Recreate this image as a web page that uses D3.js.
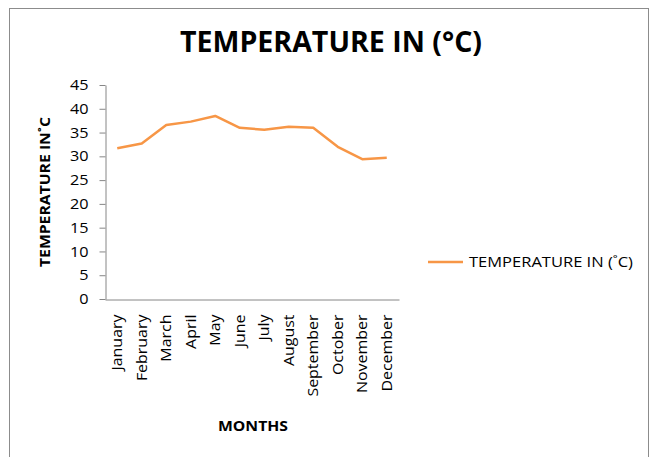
<!DOCTYPE html>
<html>
<head>
<meta charset="utf-8">
<script src="https://cdn.jsdelivr.net/npm/d3@7"></script>
<style>
  body { margin: 0; background: #fff; }
  text { font-family: "Open Sans", "DejaVu Sans", sans-serif; fill: #000; }
</style>
</head>
<body>
<div id="chart"></div>
<script>
var months = ['January','February','March','April','May','June','July','August','September','October','November','December'];
var temps = [31.7, 32.7, 36.6, 37.3, 38.5, 36.0, 35.6, 36.2, 36.0, 32.0, 29.4, 29.7];
var yTicks = [0, 5, 10, 15, 20, 25, 30, 35, 40, 45];
var seriesName = 'TEMPERATURE IN (\u02DAC)';

var width = 653, height = 457;
var svg = d3.select('#chart').append('svg').attr('width', width).attr('height', height);

// chart area border
svg.append('rect').attr('x', 9.5).attr('y', 8.5).attr('width', 639).attr('height', 460)
  .attr('fill', '#fff').attr('stroke', '#8c8c8c').attr('stroke-width', 1);

var xScale = d3.scaleBand().domain(months).range([105, 399]);
var yScale = d3.scaleLinear().domain([0, 45]).range([299, 85]);

// y axis
var yAxis = d3.axisLeft(yScale).tickValues(yTicks).tickSize(6).tickSizeOuter(0);
var gy = svg.append('g').attr('transform', 'translate(105.5,0)').call(yAxis);
gy.select('.domain').attr('stroke', '#868686');
gy.selectAll('.tick line').attr('stroke', '#868686');
gy.selectAll('.tick text').attr('x', -17)
  .style('font-size', '14.5px').style('font-family', '"Open Sans", sans-serif').attr('fill', '#000')
  .each(function() {
    var t = d3.select(this);
    t.attr('textLength', this.getComputedTextLength() * 1.12).attr('lengthAdjust', 'spacingAndGlyphs');
  });

// x axis
var xAxis = d3.axisBottom(xScale).tickSize(0).tickSizeOuter(0);
var gx = svg.append('g').attr('transform', 'translate(0,299.5)').call(xAxis);
gx.select('.domain').attr('stroke', '#868686');
gx.selectAll('.tick text')
  .attr('transform', 'rotate(-90)')
  .attr('text-anchor', 'end')
  .attr('x', -15).attr('y', 0).attr('dy', '0.35em')
  .style('font-size', '14.5px').style('font-family', '"Open Sans", sans-serif').attr('fill', '#000')
  .each(function() {
    var t = d3.select(this);
    t.attr('textLength', this.getComputedTextLength() * 1.1).attr('lengthAdjust', 'spacingAndGlyphs');
  });

// line
svg.append('path')
  .datum(temps)
  .attr('fill', 'none')
  .attr('stroke', '#f79646')
  .attr('stroke-width', 2.5)
  .attr('stroke-linejoin', 'round')
  .attr('d', d3.line()
    .x(function(d, i) { return xScale(months[i]) + xScale.bandwidth() / 2; })
    .y(function(d) { return yScale(d); }));

// title
svg.append('text').text('TEMPERATURE IN (\u00B0C)')
  .attr('x', 331).attr('y', 52).attr('text-anchor', 'middle')
  .attr('textLength', 302).attr('lengthAdjust', 'spacingAndGlyphs')
  .style('font-size', '28px').style('font-weight', 'bold');

// axis titles
svg.append('text').text('TEMPERATURE IN\u02DAC')
  .attr('transform', 'translate(50,192) rotate(-90)')
  .attr('text-anchor', 'middle')
  .attr('textLength', 150).attr('lengthAdjust', 'spacingAndGlyphs')
  .style('font-size', '13.5px').style('font-weight', 'bold');

svg.append('text').text('MONTHS')
  .attr('x', 253).attr('y', 431).attr('text-anchor', 'middle')
  .attr('textLength', 70).attr('lengthAdjust', 'spacingAndGlyphs')
  .style('font-size', '14.5px').style('font-weight', 'bold');

// legend
var legend = svg.append('g').attr('transform', 'translate(428,262)');
legend.append('line').attr('x1', 0).attr('x2', 35).attr('y1', 0).attr('y2', 0)
  .attr('stroke', '#f79646').attr('stroke-width', 2.5);
legend.append('text').text(seriesName)
  .attr('x', 41).attr('y', 0).attr('dy', '0.35em')
  .attr('textLength', 164).attr('lengthAdjust', 'spacingAndGlyphs')
  .style('font-size', '14px');
</script>
</body>
</html>
